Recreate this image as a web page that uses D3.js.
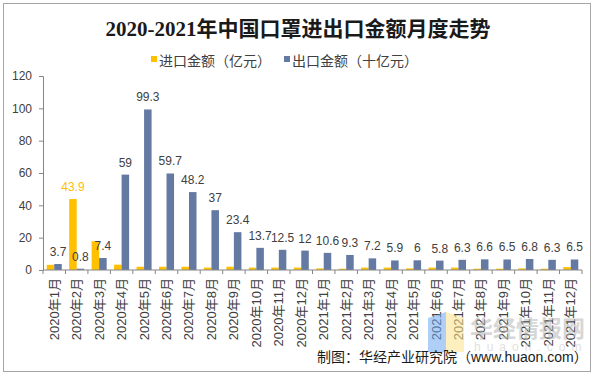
<!DOCTYPE html>
<html>
<head>
<meta charset="utf-8">
<script src="https://cdn.jsdelivr.net/npm/d3@7"></script>
<style>
  body { margin: 0; background: #fff; }
  text { font-family: Arial, "Liberation Sans", "Noto Sans CJK SC", sans-serif; }
</style>
</head>
<body>
<div id="chart"></div>
<script>
const months = [
  "2020年1月", "2020年2月", "2020年3月", "2020年4月", "2020年5月", "2020年6月",
  "2020年7月", "2020年8月", "2020年9月", "2020年10月", "2020年11月", "2020年12月",
  "2021年1月", "2021年2月", "2021年3月", "2021年4月", "2021年5月", "2021年6月",
  "2021年7月", "2021年8月", "2021年9月", "2021年10月", "2021年11月", "2021年12月",
];
// 进口金额（亿元）, only Feb carries a label
const imports = [3.2, 43.9, 17.8, 3.3, 2.0, 2.0, 2.0, 1.5, 2.0, 1.5, 1.5, 1.5,
  1.0, 0.8, 1.5, 1.5, 1.0, 1.5, 1.5, 0.8, 0.8, 1.0, 0.8, 1.8];
const importLabels = [null, "43.9", null, null, null, null, null, null, null, null, null, null,
  null, null, null, null, null, null, null, null, null, null, null, null];
// 出口金额（十亿元）
const exports = [3.7, 0.8, 7.4, 59, 99.3, 59.7, 48.2, 37, 23.4, 13.7, 12.5, 12,
  10.6, 9.3, 7.2, 5.9, 6, 5.8, 6.3, 6.6, 6.5, 6.8, 6.3, 6.5];
const yTicks = [0, 20, 40, 60, 80, 100, 120];

const size = { width: 596, height: 375 };
const margin = { left: 43, right: 14, top: 76, bottom: 105 };
const yellow = "#ffc000";
const blue = "#657aa3";

const svg = d3.select("#chart").append("svg")
  .attr("width", size.width)
  .attr("height", size.height);

// outer frame
svg.append("rect")
  .attr("x", 3.5).attr("y", 3.5)
  .attr("width", 587).attr("height", 368)
  .attr("fill", "#fff")
  .attr("stroke", "#a6a6a6");

svg.append("text")
  .attr("x", 298).attr("y", 36)
  .attr("text-anchor", "middle")
  .style("font-family", "'Liberation Serif', 'Noto Sans CJK SC', serif")
  .style("font-size", "21px")
  .style("font-weight", "bold")
  .attr("fill", "#1a1a1a")
  .text("2020-2021年中国口罩进出口金额月度走势");

// legend
const legend = [
  { name: "进口金额（亿元）", color: yellow, x: 151 },
  { name: "出口金额（十亿元）", color: blue, x: 284 },
];
const lg = svg.append("g").selectAll("g").data(legend).join("g")
  .attr("transform", (d) => `translate(${d.x},61)`);
lg.append("rect").attr("x", 0).attr("y", -5).attr("width", 6).attr("height", 6).attr("fill", (d) => d.color);
lg.append("text").attr("x", 8).attr("y", 0).attr("dy", "0.35em")
  .style("font-size", "14px").attr("fill", "#404040").text((d) => d.name);

const x = d3.scaleBand()
  .domain(months)
  .range([margin.left, size.width - margin.right])
  .paddingInner(0.33)
  .paddingOuter(0.165);

const sub = d3.scaleBand()
  .domain(["imp", "exp"])
  .range([0, x.bandwidth()]);

const y = d3.scaleLinear()
  .domain([0, 120])
  .range([size.height - margin.bottom, margin.top]);

const baseY = size.height - margin.bottom;

// y axis
const yAxis = svg.append("g")
  .attr("transform", `translate(${margin.left},0)`)
  .call(d3.axisLeft(y).tickValues(yTicks).tickSize(4).tickPadding(7));
yAxis.select(".domain").attr("stroke", "#868686");
yAxis.selectAll(".tick line").attr("stroke", "#868686");
yAxis.selectAll(".tick text").style("font-size", "12px").attr("fill", "#404040");

// bars
svg.append("g").selectAll("rect").data(imports).join("rect")
  .attr("x", (d, i) => x(months[i]) + sub("imp"))
  .attr("y", (d) => y(d))
  .attr("width", sub.bandwidth())
  .attr("height", (d) => baseY - y(d))
  .attr("fill", yellow);

svg.append("g").selectAll("rect").data(exports).join("rect")
  .attr("x", (d, i) => x(months[i]) + sub("exp"))
  .attr("y", (d) => y(d))
  .attr("width", sub.bandwidth())
  .attr("height", (d) => baseY - y(d))
  .attr("fill", blue);

// x axis, ticks between categories
const step = x.step();
const xAxis = svg.append("g").attr("transform", `translate(0,${baseY})`);
xAxis.append("line")
  .attr("x1", margin.left).attr("x2", size.width - margin.right)
  .attr("stroke", "#868686");
xAxis.selectAll(".tk").data(d3.range(months.length + 1)).join("line")
  .attr("class", "tk")
  .attr("x1", (i) => margin.left + i * step).attr("x2", (i) => margin.left + i * step)
  .attr("y1", 0).attr("y2", 4)
  .attr("stroke", "#868686");
xAxis.selectAll("text").data(months).join("text")
  .attr("transform", (d) => `translate(${x(d) + x.bandwidth() / 2 + 4.5},8) rotate(-90)`)
  .attr("text-anchor", "end")
  .style("font-size", "13px")
  .attr("fill", "#404040")
  .text((d) => d);

// data labels
svg.append("g").selectAll("text").data(exports).join("text")
  .attr("x", (d, i) => x(months[i]) + sub("exp") + sub.bandwidth() / 2)
  .attr("y", (d) => y(d) - 8)
  .attr("text-anchor", "middle")
  .style("font-size", "12px")
  .attr("fill", "#404040")
  .text((d) => d);

svg.append("g").selectAll("text").data(imports).join("text")
  .attr("x", (d, i) => x(months[i]) + sub("imp") + sub.bandwidth() / 2)
  .attr("y", (d) => y(d) - 8)
  .attr("text-anchor", "middle")
  .style("font-size", "12px")
  .attr("fill", yellow)
  .text((d, i) => importLabels[i] || "");

// watermark
const wm = svg.append("g").attr("opacity", 0.55);
wm.append("path").attr("d", "M428,318 L446,312 L446,352 L428,352 Z").attr("fill", "#6fa8f0");
wm.append("path").attr("d", "M446,312 L464,318 L464,352 L446,352 Z").attr("fill", "#fde48a");
wm.append("text").attr("x", 470).attr("y", 337)
  .style("font-size", "23px").style("font-weight", "bold")
  .attr("fill", "#b8b8b8").text("华经情报网");
wm.append("text").attr("x", 474).attr("y", 351)
  .style("font-size", "12px").style("letter-spacing", "6px")
  .attr("fill", "#c8c8c8").text("huaon.com");

svg.append("text")
  .attr("x", 317).attr("y", 362)
  .style("font-size", "14px")
  .attr("fill", "#1a1a1a")
  .text("制图：华经产业研究院（www.huaon.com）");
</script>
</body>
</html>
